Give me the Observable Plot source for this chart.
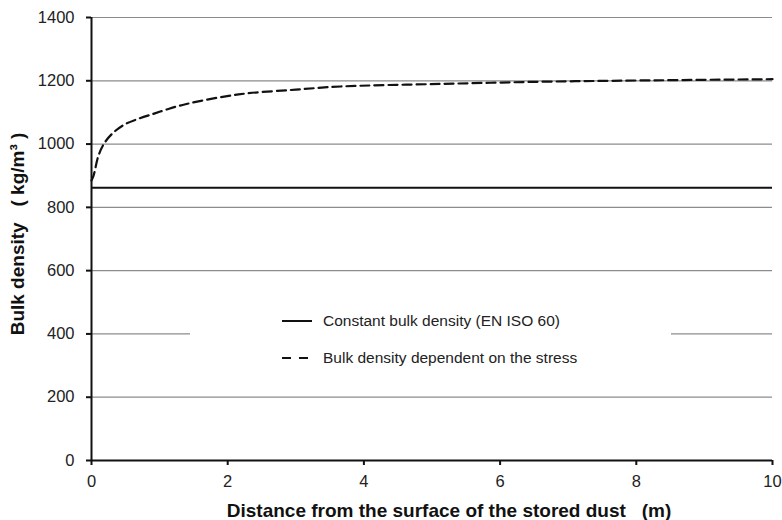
<!DOCTYPE html>
<html>
<head>
<meta charset="utf-8">
<script src="https://cdn.jsdelivr.net/npm/d3@7"></script>
<script src="https://cdn.jsdelivr.net/npm/@observablehq/plot@0.6"></script>
<style>
  html, body { margin: 0; padding: 0; background: #fff; }
  #wrap { position: relative; width: 782px; height: 520px; font-family: "Liberation Sans", Arial, sans-serif; }
  #legend { position: absolute; left: 190px; top: 300px; width: 481px; height: 76px; background: #fff; }
  .item { position: absolute; left: 92px; display: flex; align-items: center; font-size: 15.5px; color: #222; }
  .item svg { margin-right: 11px; }
</style>
</head>
<body>
<div id="wrap"></div>
<script>
// Data
const distance = [0, 0.03, 0.1, 0.18, 0.3, 0.47, 0.69, 0.93, 1.1, 1.38, 2.16, 3.0, 3.66, 5.12, 6.6, 8.06, 10];
const stressDensity = [885, 900, 962, 1000, 1032, 1060, 1080, 1097, 1109, 1126, 1157, 1172, 1182, 1190, 1197, 1201, 1205];
const constantDensity = 862;
const xTicks = [0, 2, 4, 6, 8, 10];
const yTicks = [0, 200, 400, 600, 800, 1000, 1200, 1400];
const seriesLabels = ["Constant bulk density (EN ISO 60)", "Bulk density dependent on the stress"];

const curve = distance.map((d, i) => ({d, v: stressDensity[i]}));

const chart = Plot.plot({
  width: 782,
  height: 520,
  marginLeft: 91,
  marginRight: 10,
  marginTop: 17,
  marginBottom: 60,
  style: {fontFamily: "Liberation Sans, Arial, sans-serif", fontSize: "16.5px", color: "#222", background: "#fff"},
  x: {domain: [0, 10], ticks: xTicks, label: null},
  y: {domain: [0, 1400], ticks: yTicks, label: null},
  marks: [
    Plot.ruleY(yTicks.filter(t => t > 0), {stroke: "#8c8c8c", strokeWidth: 1.2}),
    Plot.ruleY([constantDensity], {stroke: "#111", strokeWidth: 2.2}),
    Plot.line(curve, {x: "d", y: "v", curve: "catmull-rom", stroke: "#111", strokeWidth: 2.2, strokeDasharray: "9,5"}),
    Plot.axisY({ticks: yTicks, tickSize: 5, tickPadding: 12, tickFormat: d => String(d), label: null, stroke: "#111", strokeWidth: 2, fontSize: "16.5px"}),
    Plot.axisX({ticks: xTicks, tickSize: 5, tickPadding: 10, tickFormat: d => String(d), label: null, stroke: "#111", strokeWidth: 2, fontSize: "16.5px"}),
    Plot.ruleX([0], {stroke: "#111", strokeWidth: 2}),
    Plot.ruleY([0], {stroke: "#111", strokeWidth: 2}),
    Plot.text(["Distance from the surface of the stored dust   (m)"], {frameAnchor: "bottom", dx: 17, dy: 56, fontWeight: "bold", fontSize: 19, fill: "#111", textAnchor: "middle", lineAnchor: "bottom"}),
    Plot.text(["Bulk density   ( kg/m³ )"], {frameAnchor: "left", dx: -74, dy: -5, rotate: -90, fontWeight: "bold", fontSize: 19, fill: "#111", textAnchor: "middle"})
  ]
});
chart.style.overflow = "visible";
const wrap = document.getElementById("wrap");
wrap.appendChild(chart);

const legend = document.createElement("div");
legend.id = "legend";
legend.innerHTML = `
  <div class="item" style="top:12px"><svg width="30" height="6"><line x1="0" y1="3" x2="30" y2="3" stroke="#111" stroke-width="2"/></svg>${seriesLabels[0]}</div>
  <div class="item" style="top:49px"><svg width="30" height="6"><line x1="0" y1="3" x2="30" y2="3" stroke="#111" stroke-width="2.2" stroke-dasharray="9,8"/></svg>${seriesLabels[1]}</div>
`;
wrap.appendChild(legend);
</script>
</body>
</html>
